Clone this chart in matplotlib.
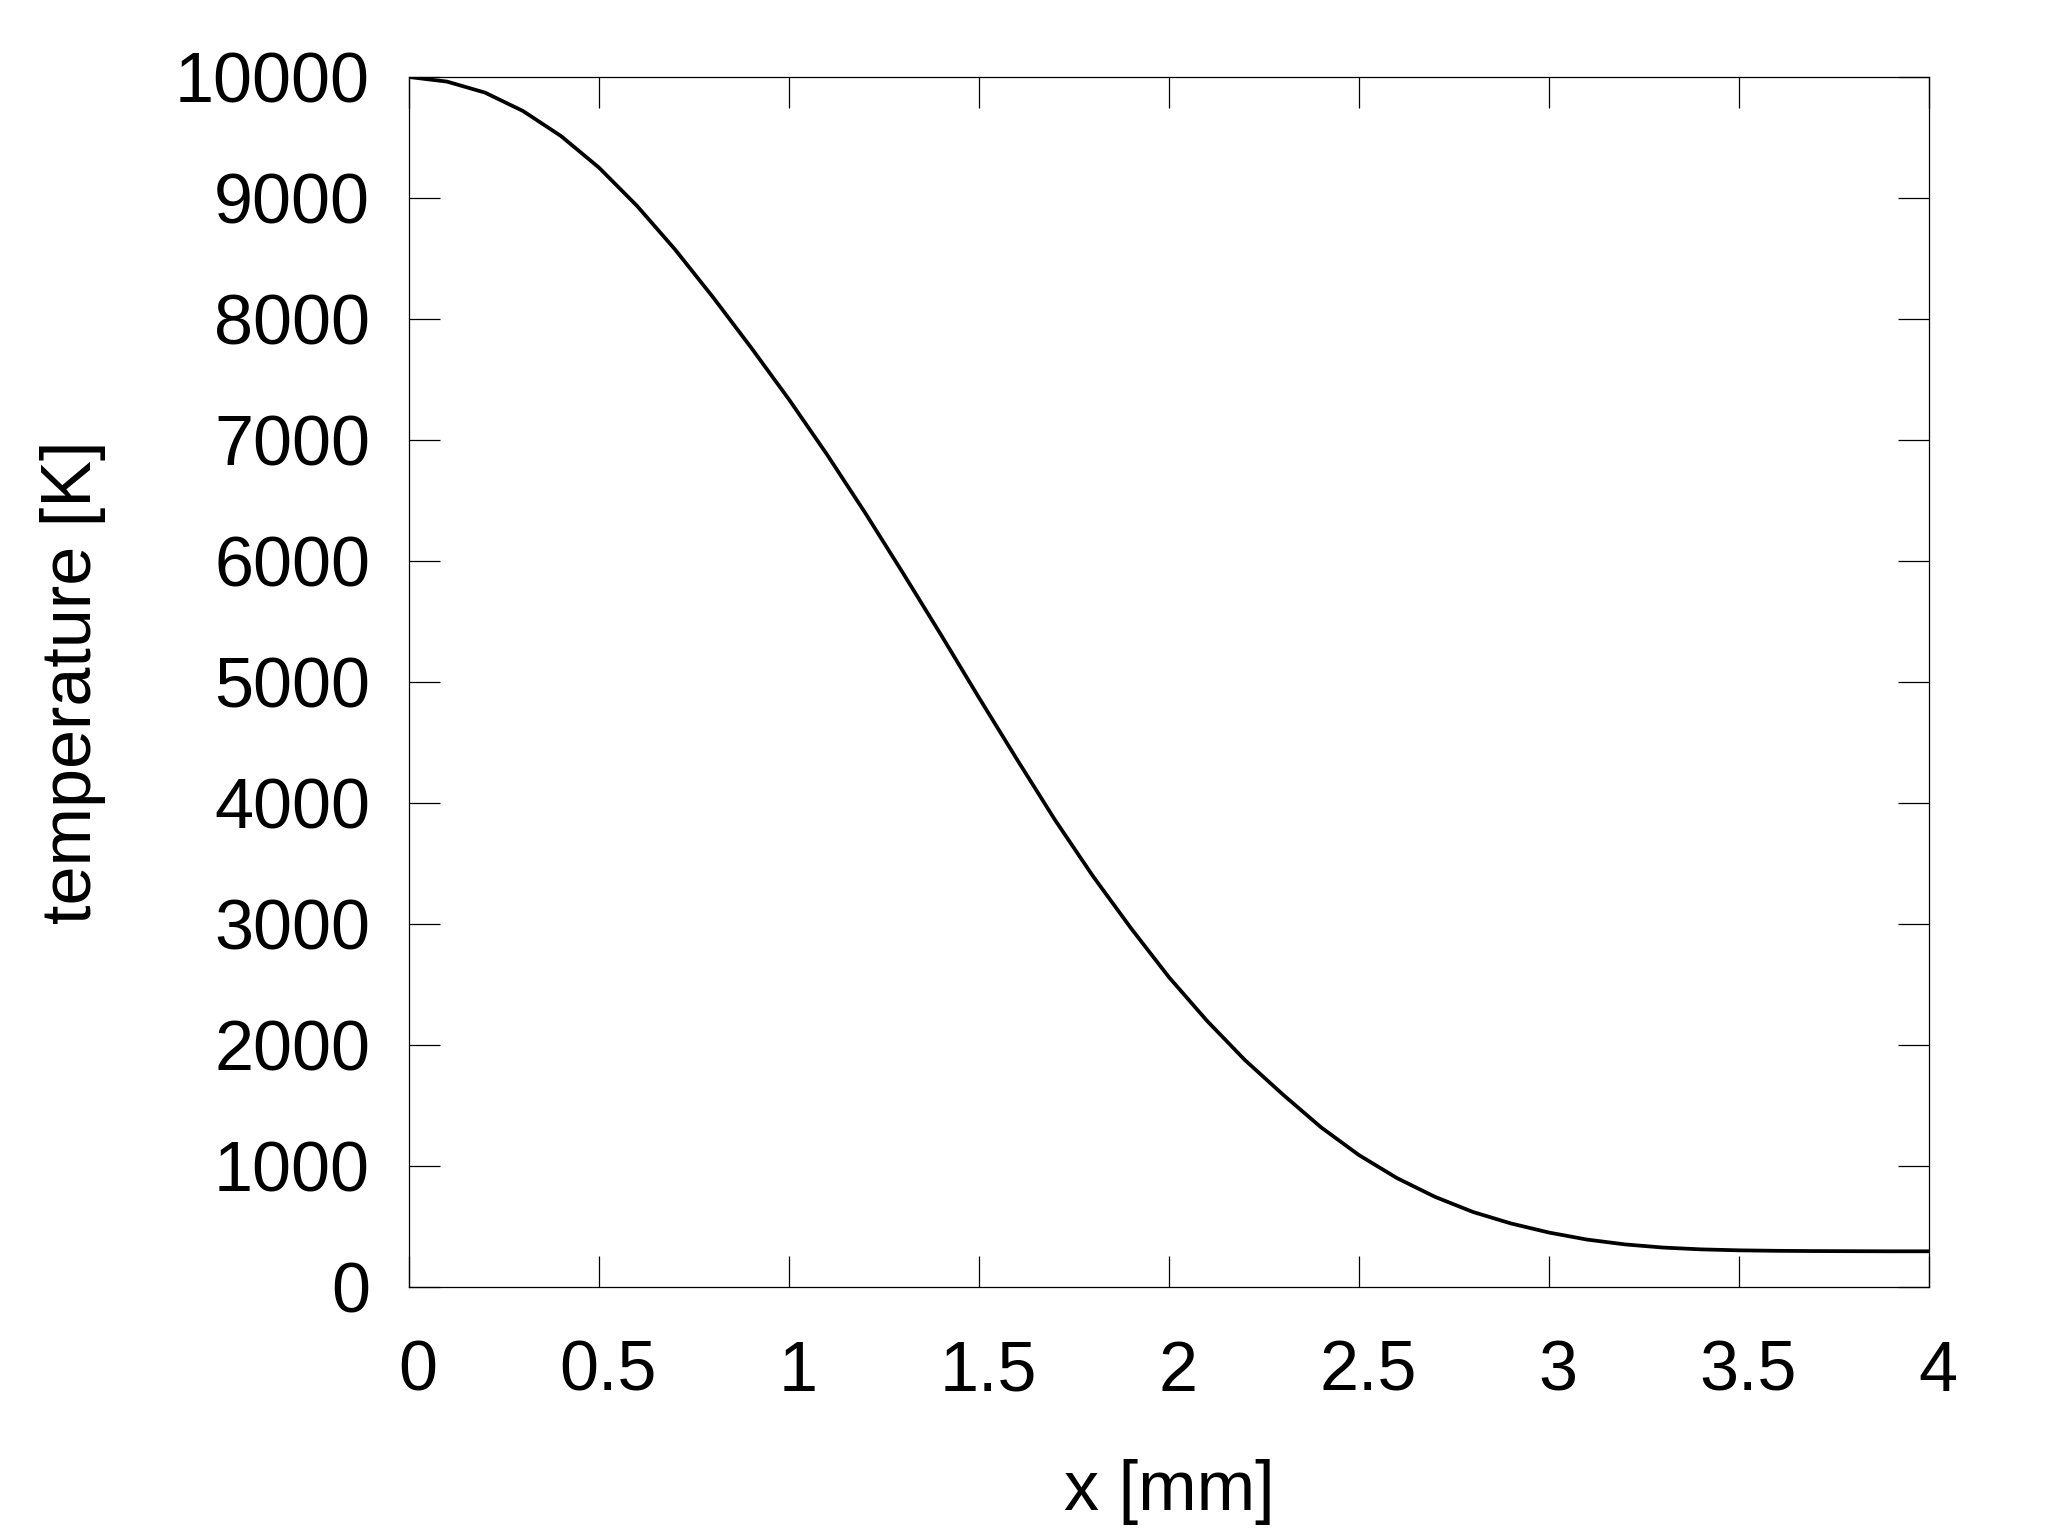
import matplotlib
matplotlib.use("Agg")
import matplotlib.pyplot as plt
import matplotlib.transforms as mtransforms

x_mm = [0.0, 0.1, 0.2, 0.3, 0.4, 0.5, 0.6, 0.7, 0.8, 0.9,
        1.0, 1.1, 1.2, 1.3, 1.4, 1.5, 1.6, 1.7, 1.8, 1.9,
        2.0, 2.1, 2.2, 2.3, 2.4, 2.5, 2.6, 2.7, 2.8, 2.9,
        3.0, 3.1, 3.2, 3.3, 3.4, 3.5, 3.6, 3.7, 3.8, 3.9, 4.0]
temperature_K = [10000, 9962, 9871, 9719, 9512, 9251, 8935, 8575, 8180, 7765,
                 7335, 6880, 6400, 5900, 5390, 4870, 4360, 3860, 3395, 2965,
                 2560, 2200, 1875, 1590, 1320, 1090, 900, 745, 620, 525,
                 450, 392, 352, 326, 311, 303, 299, 297, 296, 295, 295]

x_ticks = [0, 0.5, 1, 1.5, 2, 2.5, 3, 3.5, 4]
x_tick_labels = ["0", "0.5", "1", "1.5", "2", "2.5", "3", "3.5", "4"]
y_ticks = [0, 1000, 2000, 3000, 4000, 5000, 6000, 7000, 8000, 9000, 10000]
y_tick_labels = [str(v) for v in y_ticks]

plt.rcParams['font.family'] = ['Liberation Sans', 'DejaVu Sans']

fig = plt.figure(figsize=(20.48, 15.36), dpi=100)
ax = fig.add_axes([409/2048, 1 - 1287/1536, (1929 - 409)/2048, (1287 - 77)/1536])

ax.plot(x_mm, temperature_K, color='black', lw=2.7)

ax.set_xlim(0, 4)
ax.set_ylim(0, 10000)
ax.set_xticks(x_ticks)
ax.set_xticklabels(x_tick_labels)
ax.set_yticks(y_ticks)
ax.set_yticklabels(y_tick_labels)

for s in ax.spines.values():
    s.set_linewidth(0.9)
    s.set_color('black')

ax.tick_params(axis='both', which='major', direction='in', length=22, width=0.9,
               top=True, right=True, labelsize=50.5, colors='black')
ax.tick_params(axis='x', pad=38)
ax.tick_params(axis='y', pad=28)

offset = mtransforms.ScaledTranslation(9/100, 0, fig.dpi_scale_trans)
for lbl in ax.get_xticklabels():
    lbl.set_transform(lbl.get_transform() + offset)

ax.set_xlabel("x [mm]", fontsize=50.5, labelpad=38)
ax.set_ylabel("temperature [K]", fontsize=50.5, labelpad=50)

fig.savefig("out.png", dpi=100, facecolor='white')
